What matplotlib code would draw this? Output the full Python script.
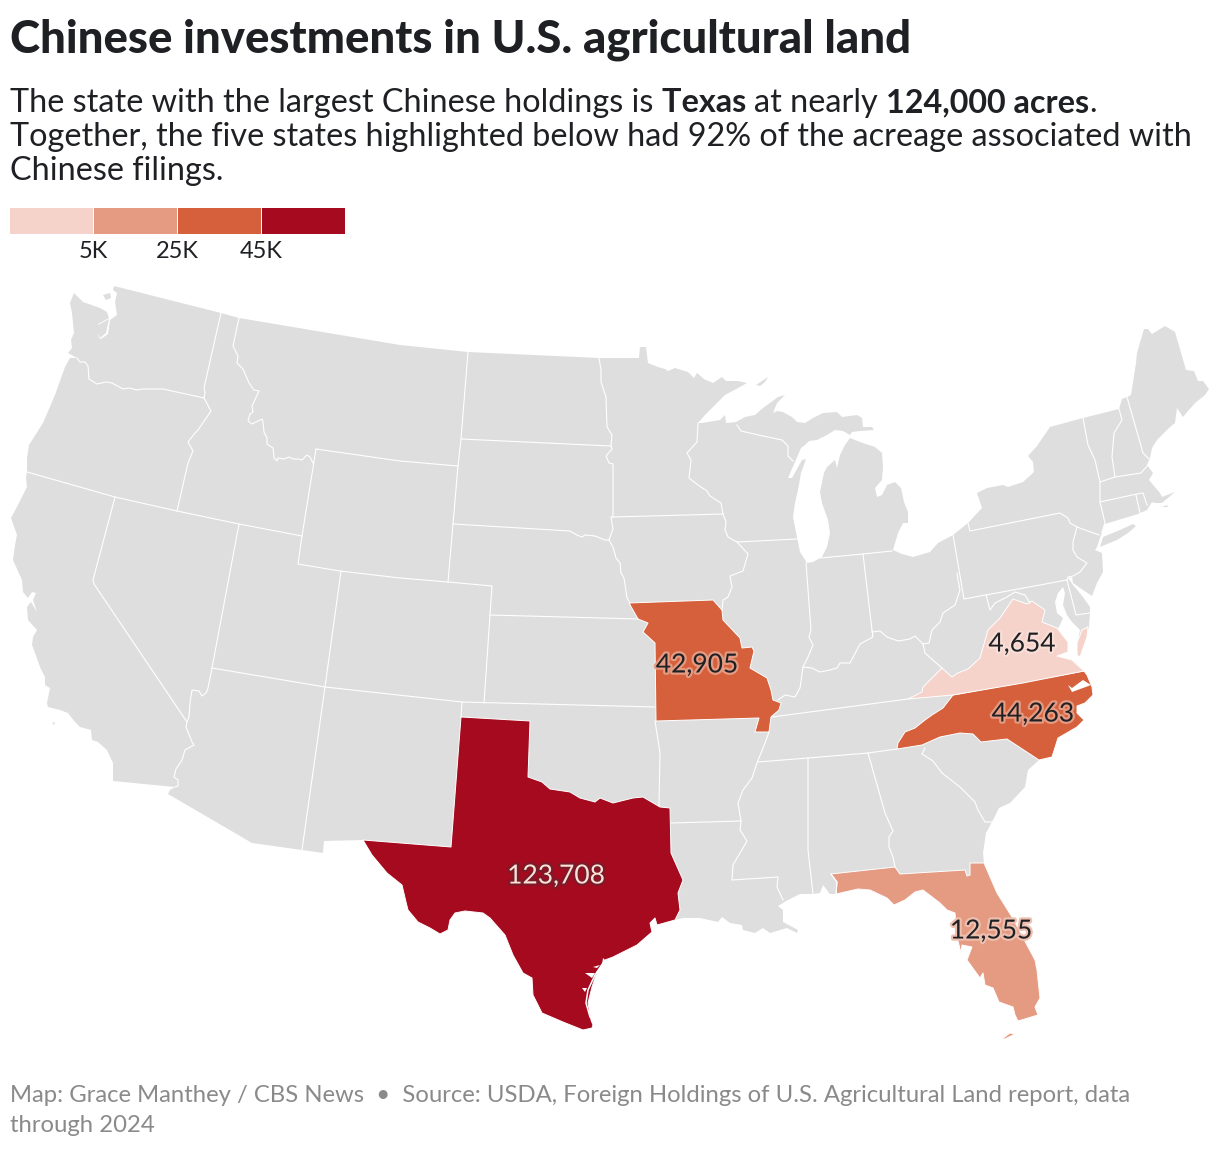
import matplotlib
matplotlib.use("Agg")
import matplotlib.pyplot as plt
import matplotlib.patheffects as pe
import numpy as np
from matplotlib.patches import Polygon

# Map outlines
NORTH_BORDER = [(114,286),(221,313),(239,318),(400,345),(468,352),(599,358),(639,358),(640,347),(646,347),(648,363),
    (658,367),(665,369),(668,371),(675,368),(688,372),(691,375),(694,378),(697,373),(704,379),(713,383),(722,377),
    (726,381),(738,381),(747,383),(738,388),(725,395),(715,405),(705,415),(698,423)]
GREAT_LAKES = [(702,423),(720,420),(725,415),(726,423),(736,422),(745,417),(755,415),(763,408),(770,403),(778,397),
    (785,395),(777,403),(773,413),(777,411),(783,412),(792,417),(797,422),(805,423),(813,418),(823,413),(837,412),
    (842,417),(857,415),(862,418),(863,427),(872,427),(874,430),(860,431),(852,432),(850,435),(843,431),(835,430),
    (827,435),(817,440),(809,441),(805,445),(801,448),(795,462),(788,478),(792,478),(802,460),(806,459),(801,473),
    (798,490),(795,503),(793,517),(797,537),(800,552),(807,563),(813,562),(822,557),(827,547),(830,533),(828,520),
    (822,503),(820,492),(824,473),(827,467),(835,460),(837,468),(840,455),(845,445),(850,438),(860,442),(875,447),
    (882,453),(883,467),(882,480),(875,488),(877,497),(882,495),(887,485),(895,482),(901,488),(904,502),(908,512),
    (908,523),(903,523),(898,533),(893,550),(902,554),(913,557),(930,552),(938,543),(953,535),(968,523),(982,508),
    (977,493),(987,488),(1003,485),(1008,487),(1023,482),(1034,472),(1033,462),(1028,456),(1037,446),(1050,427)]
NORTHEAST_COAST = [(1083,418),(1119,409),(1122,399),(1127,397),(1131,395),(1136,363),(1137,353),(1144,329),(1148,329),
    (1152,334),(1165,326),(1175,332),(1186,370),(1194,371),(1198,381),(1203,381),(1209,389),(1205,395),(1195,403),
    (1188,411),(1183,417),(1177,408),(1175,423),(1170,427),(1157,440),(1152,448),(1150,458),(1147,465),(1153,473),
    (1149,480),(1160,493),(1162,497),(1175,492),(1162,503),(1155,503),(1152,502),(1147,510),(1138,514),(1105,524),
    (1102,532),(1097,547),(1095,550),(1102,553),(1103,572),(1097,583),(1092,596),(1083,590),(1073,583),(1072,577),
    (1068,578),(1073,585),(1083,597),(1090,607),(1090,613),(1089,627),(1085,640)]
CHESAPEAKE = [(1079,657),(1077,645),(1080,630),(1072,622),(1067,615),(1063,605),(1065,593),(1063,587),(1058,593),
    (1055,602),(1057,613),(1063,618),(1058,629),(1068,642),(1068,652),(1057,656),(1072,660),(1084,671)]
SOUTHEAST_COAST = [(1087,675),(1092,687),(1093,695),(1085,703),(1077,706),(1077,713),(1084,720),(1077,727),(1058,738),
    (1052,757),(1039,760),(1028,770),(1025,787),(1010,803),(999,808),(992,822),(986,833),(983,853),(984,863)]
FLORIDA_COAST = [(997,893),(1012,917),(1035,960),(1037,970),(1040,998),(1035,1007),(1038,1015),(1018,1021),(1015,1015),
    (1013,1007),(999,1002),(993,988),(985,985),(983,973),(980,978),(967,960),(972,947),(962,945),(961,953),(957,937),
    (955,913),(947,910),(940,903),(923,890),(915,892),(905,900),(894,905),(887,898),(870,890),(858,889),(836,894)]
GULF_COAST = [(830,894),(823,885),(820,893),(813,894),(800,894),(788,900),(778,906),(783,910),(783,922),(798,930),
    (797,933),(787,928),(770,933),(763,928),(755,933),(743,930),(742,925),(730,923),(722,917),(718,922),(700,918),
    (683,918),(675,920)]
TEXAS_COAST = [(657,925),(655,918),(650,923),(652,932),(637,945),(613,957),(605,960),(597,972),(592,987),(588,1003),
    (591,1020),(593,1025),(592,1028),(583,1030),(563,1022),(542,1013),(533,995),(532,978),(523,973),(513,955),(505,935),
    (490,918),(483,913),(465,911),(455,913),(450,920),(448,930),(440,934),(430,928),(418,922),(408,910),(406,902),
    (402,885),(387,873),(372,855),(363,840)]
MEXICO_BORDER = [(324,841),(323,853),(302,850),(252,843),(168,794),(170,790),(175,787),(113,781)]
PACIFIC_COAST = [(113,763),(107,750),(98,742),(92,740),(91,730),(80,727),(75,722),(68,713),(60,710),(48,707),(47,703),
    (50,688),(45,685),(45,677),(40,667),(35,653),(32,645),(33,637),(37,630),(28,620),(27,607),(31,602),(37,612),
    (33,600),(36,593),(32,592),(28,598),(23,592),(22,580),(13,560),(15,545),(17,535),(11,518),(18,505),(27,487),
    (26,478),(27,472),(27,458),(29,445),(43,423),(55,395),(65,367),(70,358),(77,358),(68,353),(72,348),(71,340),
    (74,333),(72,313),(70,303),(74,293),(83,302),(100,308),(107,312),(109,318),(98,324),(98,325),(109,319),(106,333),
    (100,338),(98,333),(99,338),(101,339),(108,334),(110,320),(117,315),(115,302),(117,293),(113,290)]

LONG_ISLAND = [(1100,547),(1103,537),(1120,530),(1133,524),(1136,526),(1128,533),(1117,540)]
SAN_JUAN = [(103,295),(110,293),(111,298),(106,300)]
ISLE_ROYALE = [(756,385),(768,377),(765,382),(760,386)]
CHANNEL_ISLAND = [(52,723),(55,722),(54,725)]
VINEYARD = [(1162,507),(1167,505),(1168,507)]

TEXAS = [(363,840),(451,847),(461,717),(530,721),(528,777),(542,782),(550,789),(570,792),(580,798),(595,802),(600,798),
    (613,803),(633,798),(643,797),(660,807),(670,808),(671,853),(683,880),(678,893),(680,910),(675,920)] + TEXAS_COAST
MISSOURI = [(629,603),(713,600),(722,610),(723,620),(740,638),(742,648),(752,647),(754,651),(750,668),(767,678),
    (771,690),(773,700),(781,703),(779,710),(771,717),(769,732),(755,732),(759,718),(656,721),(655,643),(643,632),
    (648,623),(638,619)]
VIRGINIA = [(908,699),(922,692),(923,687),(942,668),(952,677),(958,673),(968,669),(980,658),(988,630),(1000,618),
    (1013,599),(1027,604),(1032,601),(1045,610),(1042,622),(1057,628),(1068,642),(1068,652),(1057,656),(1072,660),
    (1084,671),(1023,683),(953,695)]
VIRGINIA_SHORE = [(1082,630),(1088,627),(1087,637),(1080,657),(1077,655),(1077,643)]
NORTH_CAROLINA = [(953,695),(1084,671)] + SOUTHEAST_COAST[:11] + [(1007,739),(981,742),(973,734),(960,733),(940,737),
    (922,745),(897,749),(898,743),(905,732),(915,728),(925,720),(932,715),(943,708)]
FLORIDA = [(831,874),(895,867),(900,874),(965,870),(967,876),(970,875),(970,863),(984,863)] + FLORIDA_COAST + [(837,882)]
FLORIDA_KEYS = [(1002,1039),(1010,1033),(1015,1034),(1005,1039)]
ALBEMARLE = [(1068,685),(1072,692),(1083,688),(1091,685),(1083,680),(1072,688)]
TEXAS_LAGOON = [(603,963),(595,975),(588,990),(586,1003),(590,1017)]
TEXAS_BAYS = [[(585,973),(595,973),(592,978)],[(582,988),(587,988),(585,992)],[(593,967),(600,965),(597,968)],
    [(603,958),(607,962),(602,965)]]

BORDERS = [
    [(77,358),(80,362),(85,362),(88,366),(89,379),(97,384),(106,382),(112,383),(123,389),(129,388),(137,390),(142,389),(157,389),(163,389),(204,398)],
    [(221,313),(204,388),(205,393),(204,398),(211,411),(198,430),(195,433),(188,442),(193,451),(188,463),(177,511)],
    [(239,318),(233,346),(238,356),(237,363),(243,369),(249,383),(254,390),(259,391),(252,406),(253,412),(250,414),(248,421),(252,424),(262,419),(263,422),(264,432),(267,438),(267,444),(273,448),(274,458),(277,461),(278,458),(284,459),(289,457),(293,459),(298,459),(302,460),(307,455),(310,457),(313,463)],
    [(316,449),(400,461),(458,466)],
    [(316,449),(302,536),(298,564),(340,571),(400,578),(448,582),(492,586),(490,615),(484,703)],
    [(468,352),(461,439),(458,466),(453,524),(448,582)],
    [(27,472),(115,497),(177,511),(239,524),(302,536)],
    [(115,497),(93,580),(94,584),(187,722)],
    [(239,524),(212,668),(208,688),(206,693),(202,696),(199,691),(192,690),(190,703),(189,717),(187,722),(186,727),(190,737),(192,742),(194,745),(185,750),(182,760),(176,769),(174,777),(178,780),(178,786),(175,787)],
    [(212,668),(325,687),(462,702),(655,707)],
    [(341,571),(325,687),(302,850)],
    [(462,702),(461,717)],
    [(490,615),(638,619)],
    [(655,721),(660,753),(659,806)],
    [(671,823),(741,821)],
    [(769,732),(765,743),(757,763),(752,778),(743,790),(738,803),(741,821),(740,830),(747,841),(733,865),(732,880),(778,877),(777,887),(783,900)],
    [(461,439),(611,446)],
    [(453,524),(570,531),(577,535),(582,537),(585,535),(595,536),(605,540),(609,540)],
    [(599,358),(601,370),(601,382),(606,397),(607,427),(612,435),(611,446),(612,449),(606,456),(609,463),(613,464),(613,517),(611,517),(612,523),(613,529),(609,540),(613,547),(616,558),(620,563),(621,573),(624,578),(627,598),(630,603)],
    [(613,517),(723,514),(726,522),(725,530),(728,537),(737,542),(748,554),(743,571),(730,576),(732,587),(728,597),(723,600),(722,610)],
    [(698,423),(697,442),(687,453),(691,460),(689,478),(698,485),(707,491),(710,496),(721,503),(723,514)],
    [(737,425),(741,431),(763,436),(782,440),(788,446),(788,456),(793,461)],
    [(737,542),(797,539)],
    [(806,563),(811,630),(809,637),(813,645),(808,657),(803,667),(800,688),(795,697),(785,695),(778,700)],
    [(820,558),(863,554),(892,551)],
    [(863,554),(872,630)],
    [(872,630),(873,637),(860,644),(850,663),(840,663),(837,668),(830,670),(820,672),(812,668),(803,667)],
    [(872,632),(880,631),(887,637),(898,641),(910,639),(915,636),(923,644),(929,643),(932,630),(940,622),(943,613),(955,605),(960,590),(958,580),(957,573)],
    [(923,644),(925,653),(942,668)],
    [(953,535),(964,599),(1067,580)],
    [(986,595),(990,610),(995,603),(1007,597),(1015,592),(1025,595),(1030,603)],
    [(968,523),(970,531),(1060,513),(1068,518),(1070,523),(1077,527),(1099,535)],
    [(1077,527),(1073,542),(1073,550),(1077,557),(1087,563),(1080,572),(1073,576),(1068,577),(1067,580),(1076,615),(1090,613)],
    [(1083,418),(1088,445),(1095,460),(1100,482),(1100,502),(1105,523),(1102,532)],
    [(1100,502),(1137,494),(1143,493),(1147,505)],
    [(1136,495),(1140,513)],
    [(1100,482),(1115,477),(1141,473),(1148,465)],
    [(1119,409),(1122,420),(1114,433),(1112,457),(1115,477)],
    [(1127,397),(1143,453),(1149,459)],
    [(772,717),(908,699)],
    [(758,762),(808,758),(868,753),(897,749)],
    [(808,758),(808,850),(813,894)],
    [(868,753),(885,813),(893,831),(889,837),(889,847),(893,857),(895,867)],
    [(925,748),(922,754),(933,761),(942,773),(960,787),(975,802),(978,810),(985,822),(992,822)],
    [(831,874),(837,882),(836,894)],
]

# Acres per highlighted state
STATE_NAMES = ["Texas", "North Carolina", "Missouri", "Florida", "Virginia"]
STATE_ACRES = [123708, 44263, 42905, 12555, 4654]
STATE_SHAPES = [[TEXAS], [NORTH_CAROLINA], [MISSOURI], [FLORIDA, FLORIDA_KEYS], [VIRGINIA, VIRGINIA_SHORE]]
LABEL_X = [556, 1033, 697, 991, 1022]
LABEL_Y = [876, 714, 665, 931, 644]
LABEL_HALOS = ["#7a1a2a", "#e59a82", "#e59a82", "#eebfae", "#f8ded7"]

BREAKS = [5000, 25000, 45000]
BREAK_LABELS = ["5K", "25K", "45K"]
COLORS = ["#f5d3ca", "#e59a82", "#d5603b", "#a50a1e"]
LAND = "#dedede"
INK = "#1f2024"
FONT = "Lato"

fig = plt.figure(figsize=(12.2, 11.5), dpi=100)
ax = fig.add_axes([0, 0, 1, 1])
ax.set_xlim(0, 1220)
ax.set_ylim(1150, 0)
ax.axis("off")

# Land first, then the state lines on top
outline = NORTH_BORDER + GREAT_LAKES + NORTHEAST_COAST + CHESAPEAKE + SOUTHEAST_COAST + FLORIDA_COAST + GULF_COAST \
    + TEXAS_COAST + MEXICO_BORDER + PACIFIC_COAST
ax.add_patch(Polygon(outline, closed=True, fc=LAND, ec="none"))
for part in [LONG_ISLAND, SAN_JUAN, ISLE_ROYALE, CHANNEL_ISLAND, VINEYARD]:
    ax.add_patch(Polygon(part, closed=True, fc=LAND, ec="none"))
for line in BORDERS:
    xy = np.array(line)
    ax.plot(xy[:, 0], xy[:, 1], color="white", lw=0.8, solid_joinstyle="round")

# Highlighted states
for name, acres, shapes in zip(STATE_NAMES, STATE_ACRES, STATE_SHAPES):
    color = COLORS[np.digitize(acres, BREAKS)]
    for shape in shapes:
        ax.add_patch(Polygon(shape, closed=True, fc=color, ec="white", lw=0.7, joinstyle="round"))
ax.add_patch(Polygon(ALBEMARLE, closed=True, fc="white", ec="none"))
for bay in TEXAS_BAYS:
    ax.add_patch(Polygon(bay, closed=True, fc="white", ec="none"))
lagoon = np.array(TEXAS_LAGOON)
ax.plot(lagoon[:, 0], lagoon[:, 1], color="white", lw=1.1)

# Value labels with a halo
for acres, x, y, halo in zip(STATE_ACRES, LABEL_X, LABEL_Y, LABEL_HALOS):
    color = "#f8e3d6" if acres > BREAKS[-1] else INK
    txt = ax.text(x, y, f"{acres:,}", ha="center", va="center", fontsize=19, family=FONT, color=color)
    txt.set_path_effects([pe.withStroke(linewidth=3.2, foreground=halo)])

# Legend
seg_w = 84
lefts = 10 + seg_w * np.arange(len(COLORS))
ax.bar(lefts, [26] * len(COLORS), width=seg_w - 1.5, bottom=208, align="edge", color=COLORS, lw=0)
for i, label in enumerate(BREAK_LABELS):
    ax.text(lefts[i + 1] - 0.5, 251, label, ha="center", va="center", fontsize=17, family=FONT, color=INK)

# Header and footer
ax.text(10, 40, "Chinese investments in U.S. agricultural land", fontsize=32.8, family=FONT, weight="black",
        color=INK, va="center")


def draw_runs(x, y, runs):
    # Text pieces in one line, bold where asked
    renderer = fig.canvas.get_renderer()
    inv = ax.transData.inverted()
    for text, weight in runs:
        t = ax.text(x, y, text, fontsize=23.3, family=FONT, weight=weight, color=INK, va="baseline")
        box = t.get_window_extent(renderer)
        x = inv.transform((box.x1, box.y0))[0]


draw_runs(10, 112, [("The state with the largest Chinese holdings is ", "normal"), ("Texas ", "bold"), ("at nearly ", "normal"),
                    ("124,000 acres", "bold"), (".", "normal")])
draw_runs(10, 146, [("Together, the five states highlighted below had 92% of the acreage associated with", "normal")])
draw_runs(10, 180, [("Chinese filings.", "normal")])

ax.text(10, 1096, "Map: Grace Manthey / CBS News  \u2022  Source: USDA, Foreign Holdings of U.S. Agricultural Land report, data",
        fontsize=17.2, family=FONT, color="#8a8a8a", va="center")
ax.text(10, 1126, "through 2024", fontsize=17.2, family=FONT, color="#8a8a8a", va="center")

fig.savefig("out.png", dpi=100)
plt.close(fig)
